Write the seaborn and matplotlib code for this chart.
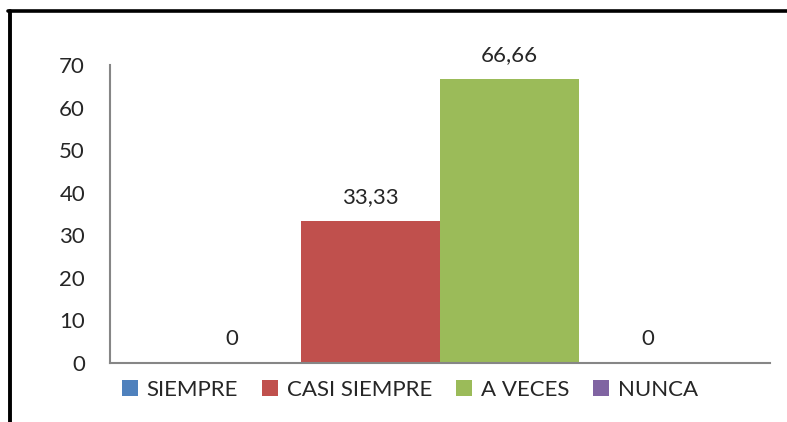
import matplotlib
matplotlib.use('Agg')
import matplotlib.pyplot as plt
import seaborn as sns
from matplotlib.lines import Line2D

# data
categories = ["SIEMPRE", "CASI SIEMPRE", "A VECES", "NUNCA"]
values = [0, 33.33, 66.66, 0]
value_labels = ["0", "33,33", "66,66", "0"]
colors = ["#4F81BD", "#C0504D", "#9BBB59", "#8064A2"]
y_ticks = [0, 10, 20, 30, 40, 50, 60, 70]

sns.set_style("white")
plt.rcParams['font.family'] = ['Lato', 'DejaVu Sans']

fig = plt.figure(figsize=(7.87, 4.22), dpi=100)
ax = fig.add_axes([0.1398, 0.1398, 0.838, 0.706])

sns.barplot(x=[""] * len(categories), y=values, hue=categories, hue_order=categories,
            palette=colors, dodge=True, width=0.842, saturation=1, linewidth=0,
            ax=ax, legend=False)

for cont, lab in zip(ax.containers, value_labels):
    ax.bar_label(cont, labels=[lab], padding=10, fontsize=16)

ax.set_xlim(-0.5, 0.5)
ax.set_ylim(0, 70)
ax.set_yticks(y_ticks)
ax.set_xticks([])
ax.tick_params(axis='y', length=0, pad=18, labelsize=16)
sns.despine(ax=ax, top=True, right=True)
for s in ['left', 'bottom']:
    ax.spines[s].set_color('#868686')
    ax.spines[s].set_linewidth(1.5)

handles = [Line2D([], [], marker='s', linestyle='none', markersize=11.5,
                  markerfacecolor=c, markeredgewidth=0, label=l)
           for c, l in zip(colors, categories)]
fig.legend(handles=handles, loc='center', bbox_to_anchor=(0.521, 0.077), ncol=4,
           frameon=False, fontsize=16, handlelength=0.7,
           handletextpad=0.4, columnspacing=1.1)

# outer border (top and left)
fig.add_artist(Line2D([8 / 787, 1], [1 - 11 / 422, 1 - 11 / 422], color='black', lw=2.6,
                      transform=fig.transFigure))
fig.add_artist(Line2D([10 / 787, 10 / 787], [0, 1 - 11 / 422], color='black', lw=2.8,
                      transform=fig.transFigure))

fig.savefig("out.png", dpi=100)
